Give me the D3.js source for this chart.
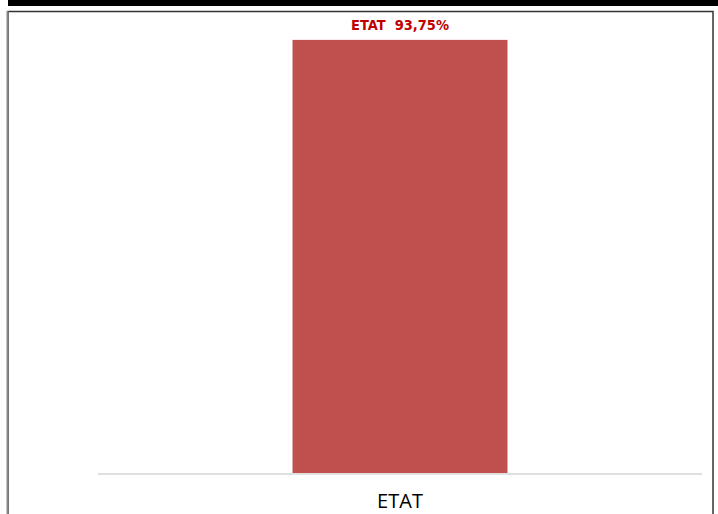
<!DOCTYPE html>
<html><head><meta charset="utf-8">
<script src="https://cdn.jsdelivr.net/npm/d3@7/dist/d3.min.js"></script>
<style>html,body{margin:0;padding:0;background:#fff;overflow:hidden}</style>
</head><body>
<svg id="c" width="718" height="514"></svg>
<script>
const categories = ["ETAT"];
const values = [93.75];
const labels = ["ETAT  93,75%"];

const svg = d3.select("#c");
// top black band
svg.append("rect").attr("x", 8).attr("y", 0).attr("width", 710).attr("height", 6).attr("fill", "#000");
// frame
svg.append("rect").attr("x", 8).attr("y", 11.5).attr("width", 705).attr("height", 520)
  .attr("fill", "#fff").attr("stroke", "#333").attr("stroke-width", 1.5);
svg.append("line").attr("x1", 7.5).attr("x2", 7.5).attr("y1", 11).attr("y2", 514).attr("stroke", "#888").attr("stroke-width", 2);

const x = d3.scaleBand().domain(categories).range([98, 702]).padding(0.475);
const y = d3.scaleLinear().domain([0, 100]).range([473, 11]);

svg.selectAll("rect.bar").data(values).join("rect").attr("class", "bar")
  .attr("x", (d, i) => x(categories[i])).attr("width", x.bandwidth())
  .attr("y", d => y(d)).attr("height", d => y(0) - y(d)).attr("fill", "#c0504d");

// baseline
svg.append("line").attr("x1", 98).attr("x2", 702).attr("y1", y(0) + 1).attr("y2", y(0) + 1)
  .attr("stroke", "#e0e0e0").attr("stroke-width", 2);

// data labels
svg.selectAll("text.lbl").data(values).join("text").attr("class", "lbl")
  .attr("x", (d, i) => x(categories[i]) + x.bandwidth() / 2).attr("y", d => y(d) - 10)
  .attr("text-anchor", "middle").attr("fill", "#c00000")
  .attr("font-family", "DejaVu Sans Condensed, DejaVu Sans").attr("font-weight", "bold").attr("font-size", 14.5)
  .style("white-space", "pre").text((d, i) => labels[i]);

// x axis labels
const xAxis = d3.axisBottom(x).tickSize(0).tickPadding(0);
const g = svg.append("g").attr("transform", `translate(0,${y(0)})`).call(xAxis);
g.select(".domain").remove();
g.selectAll("text").attr("dy", 0).attr("y", 35).attr("fill", "#000")
  .attr("font-family", "Open Sans").attr("font-size", 20);
</script>
</body></html>
